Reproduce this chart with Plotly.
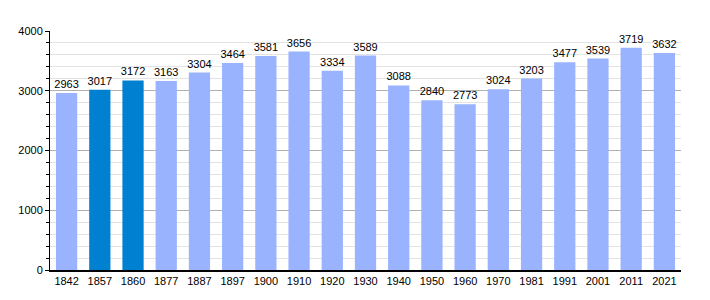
import plotly.graph_objects as go

years = ["1842", "1857", "1860", "1877", "1887", "1897", "1900", "1910", "1920", "1930",
         "1940", "1950", "1960", "1970", "1981", "1991", "2001", "2011", "2021"]
population = [2963, 3017, 3172, 3163, 3304, 3464, 3581, 3656, 3334, 3589,
              3088, 2840, 2773, 3024, 3203, 3477, 3539, 3719, 3632]
highlight_years = ["1857", "1860"]

colors = ["#0080d0" if y in highlight_years else "#99b3ff" for y in years]

fig = go.Figure(go.Bar(
    x=years, y=population, marker=dict(color=colors, line=dict(width=0)),
    text=[str(v) for v in population], textposition="outside", textangle=0,
    constraintext="none",
    textfont=dict(family="Liberation Sans, Arial, sans-serif", size=11, color="#000"),
    cliponaxis=False,
))

fig.update_layout(
    width=710, height=300,
    margin=dict(l=50, r=29, t=31, b=30),
    plot_bgcolor="white", paper_bgcolor="white",
    showlegend=False, bargap=0.36,
    font=dict(family="Liberation Sans, Arial, sans-serif", size=11, color="#000"),
)
fig.update_xaxes(
    type="category", showline=True, linecolor="#000", linewidth=2,
    ticks="", showgrid=False, tickfont=dict(size=11),
)
fig.update_yaxes(
    range=[0, 4000], dtick=1000, tick0=0, showline=True, linecolor="#000", linewidth=1,
    showgrid=True, gridcolor="#b0b0b0", gridwidth=1,
    ticks="outside", ticklen=4, tickcolor="#000",
    zeroline=False, tickfont=dict(size=11),
    minor=dict(dtick=200, showgrid=True, gridcolor="#e3e3e3", ticks="outside", ticklen=3, tickcolor="#000"),
)

fig.write_html("out.html")
